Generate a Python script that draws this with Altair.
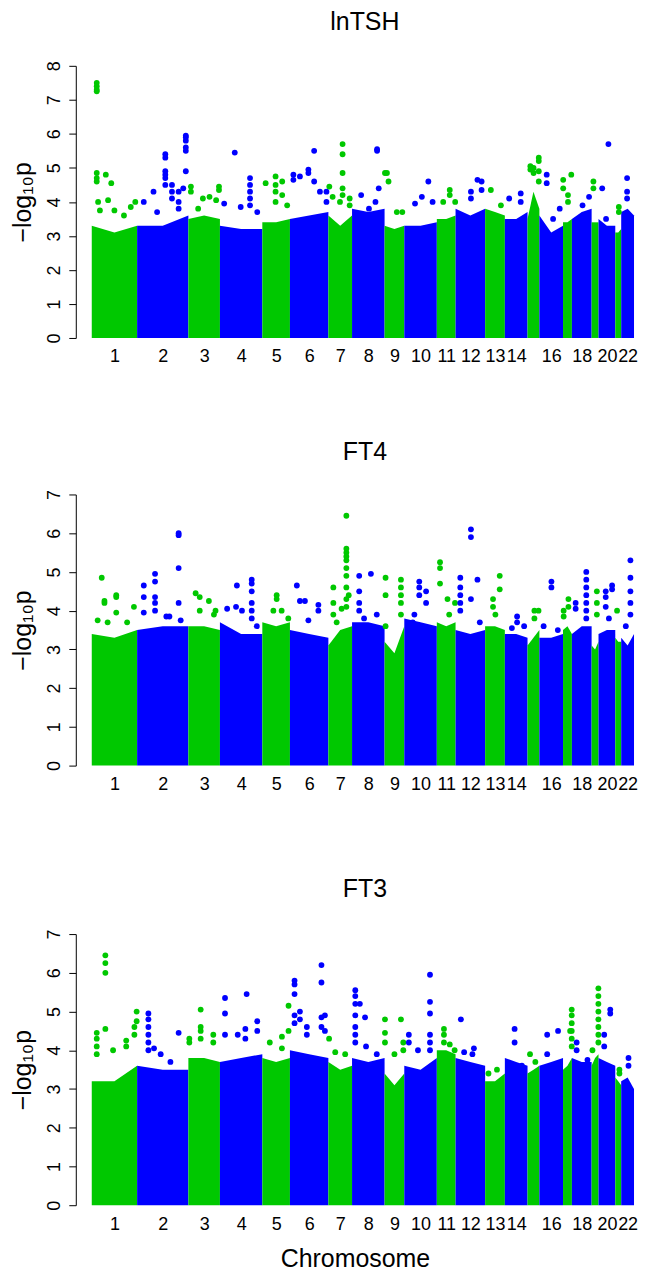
import altair as alt
import pandas as pd

GREEN = "#00C800"
BLUE = "#0000FF"
FONT = "Liberation Sans"

# chromosome widths on the plotted x scale
CHROM_SIZES = [46, 52, 32, 43, 28, 39, 24, 33, 20, 33, 19, 30, 20, 23, 12, 24, 9, 20, 7, 17, 6, 13]
X_LABELS = ["1", "2", "3", "4", "5", "6", "7", "8", "9", "10", "11", "12", "13", "14",
            "", "16", "", "18", "", "20", "", "22"]
PANEL_TITLES = ["lnTSH", "FT4", "FT3"]
Y_MAX = [8, 7, 7]

# upper level of the dense cloud per chromosome (left, middle, right)
TSH_LEVELS = [[3.3, 3.1, 3.3], [3.3, 3.3, 3.6], [3.5, 3.6, 3.5], [3.3, 3.2, 3.2], [3.4, 3.4, 3.5],
              [3.5, 3.6, 3.7], [3.6, 3.3, 3.6], [3.8, 3.7, 3.8], [3.3, 3.2, 3.3], [3.3, 3.3, 3.4],
              [3.5, 3.5, 3.6], [3.8, 3.6, 3.8], [3.8, 3.7, 3.6], [3.5, 3.5, 3.7], [3.5, 4.3, 3.8],
              [3.6, 3.1, 3.3], [3.4, 3.4, 3.5], [3.5, 3.7, 3.8], [3.4, 3.4, 3.4], [3.5, 3.3, 3.3],
              [3.1, 3.1, 3.2], [3.7, 3.8, 3.6]]
FT4_LEVELS = [[3.4, 3.3, 3.5], [3.5, 3.6, 3.6], [3.6, 3.6, 3.5], [3.7, 3.4, 3.4], [3.7, 3.6, 3.7],
              [3.5, 3.4, 3.3], [3.1, 3.5, 3.6], [3.7, 3.7, 3.6], [3.2, 2.9, 3.6], [3.8, 3.7, 3.6],
              [3.7, 3.6, 3.7], [3.5, 3.4, 3.5], [3.6, 3.6, 3.5], [3.4, 3.4, 3.3], [3.1, 3.3, 3.5],
              [3.3, 3.3, 3.4], [3.5, 3.6, 3.4], [3.4, 3.6, 3.6], [3.1, 3.0, 3.2], [3.4, 3.5, 3.5],
              [3.3, 3.2, 3.2], [3.3, 3.1, 3.4]]
FT3_LEVELS = [[3.2, 3.2, 3.6], [3.6, 3.5, 3.5], [3.8, 3.8, 3.7], [3.7, 3.8, 3.9], [3.8, 3.7, 3.8],
              [4.0, 3.9, 3.8], [3.7, 3.5, 3.6], [3.8, 3.7, 3.8], [3.4, 3.1, 3.4], [3.6, 3.5, 3.8],
              [4.0, 4.0, 3.9], [3.8, 3.7, 3.6], [3.2, 3.2, 3.4], [3.8, 3.7, 3.6], [3.4, 3.5, 3.6],
              [3.6, 3.7, 3.8], [3.5, 3.6, 3.8], [3.8, 3.7, 3.7], [3.6, 3.8, 3.9], [3.8, 3.7, 3.6],
              [3.3, 3.2, 3.1], [3.2, 3.3, 3.0]]

# points above the cloud: (chromosome, relative position, -log10 p values)
TSH_DOTS = [
    (1, 0.11, [7.5, 7.4, 7.3, 7.25, 4.85, 4.7, 4.6]), (1, 0.14, [4.0]), (1, 0.18, [3.75]),
    (1, 0.31, [4.8]), (1, 0.36, [4.05]), (1, 0.43, [4.55]), (1, 0.5, [3.75]), (1, 0.71, [3.6]),
    (1, 0.86, [3.85]), (1, 0.96, [4.0]),
    (2, 0.13, [4.0]), (2, 0.32, [4.3]), (2, 0.39, [3.7]), (2, 0.55, [5.4, 5.3, 4.9, 4.8, 4.7, 4.5]),
    (2, 0.68, [4.5, 4.3, 4.1]), (2, 0.81, [4.3, 4.0, 3.8]), (2, 0.9, [4.4]),
    (2, 0.95, [5.95, 5.9, 5.8, 5.6, 5.5, 4.9]),
    (3, 0.08, [4.45, 4.3]), (3, 0.31, [3.8]), (3, 0.46, [4.1]), (3, 0.67, [4.15]), (3, 0.88, [4.05]),
    (3, 0.97, [4.45, 4.35]),
    (4, 0.1, [3.95]), (4, 0.35, [5.45]), (4, 0.49, [3.85]), (4, 0.71, [4.7, 4.5, 4.3, 4.1, 3.9]),
    (4, 0.88, [3.7]),
    (5, 0.12, [4.55]), (5, 0.48, [4.75, 4.5, 4.3, 4.0]), (5, 0.72, [4.6, 4.2]), (5, 0.9, [3.9]),
    (6, 0.09, [4.8, 4.65]), (6, 0.26, [4.75]), (6, 0.48, [4.95, 4.85]), (6, 0.63, [5.5, 4.6]),
    (6, 0.78, [4.3]), (6, 0.95, [4.3, 4.0]),
    (7, 0.04, [4.45]), (7, 0.18, [4.15]), (7, 0.49, [4.0]), (7, 0.6, [5.7, 5.4, 4.85, 4.4, 4.2]),
    (7, 0.9, [4.1, 3.9]),
    (8, 0.28, [4.2]), (8, 0.52, [3.8]), (8, 0.72, [4.0]), (8, 0.77, [5.55, 5.5]), (8, 0.82, [4.4]),
    (9, 0.02, [4.85]), (9, 0.12, [4.85]), (9, 0.2, [4.6]), (9, 0.62, [3.7]), (9, 0.9, [3.7]),
    (10, 0.33, [3.95]), (10, 0.54, [4.15]), (10, 0.74, [4.6]), (10, 0.87, [4.0]),
    (11, 0.34, [4.0]), (11, 0.69, [4.35, 4.2]), (11, 0.98, [4.0]),
    (12, 0.52, [4.3, 4.1]), (12, 0.74, [4.65]), (12, 0.88, [4.6, 4.35]),
    (13, 0.29, [4.35]), (13, 0.8, [3.9]),
    (14, 0.19, [4.1]), (14, 0.7, [4.25, 4.0]),
    (15, 0.24, [5.05, 4.95]), (15, 0.51, [5.0, 4.85]), (15, 0.95, [5.3, 5.2, 4.9, 4.6]),
    (16, 0.31, [4.8, 4.55]), (16, 0.58, [3.5]), (16, 0.86, [3.8]),
    (17, 0.02, [4.65, 4.4]), (17, 0.56, [4.2, 4.0]), (17, 0.93, [4.8]),
    (18, 0.54, [3.9]), (18, 0.87, [4.15]),
    (19, 0.26, [4.6, 4.4]),
    (20, 0.22, [4.4]), (20, 0.45, [3.5]), (20, 0.59, [5.7]),
    (21, 0.6, [3.85, 3.7]),
    (22, 0.46, [4.7, 4.3, 4.1]),
]
FT4_DOTS = [
    (1, 0.13, [3.75]), (1, 0.22, [4.85]), (1, 0.28, [4.25, 4.2]), (1, 0.35, [3.7]),
    (1, 0.54, [4.4, 4.35, 3.95]), (1, 0.78, [3.7]), (1, 0.93, [4.1]),
    (2, 0.13, [4.65, 4.35, 3.95]), (2, 0.35, [4.95, 4.75, 4.35, 4.2, 4.0]), (2, 0.57, [3.85]),
    (2, 0.63, [3.85]), (2, 0.81, [6.0, 5.95, 5.1, 4.2]), (2, 0.85, [3.75]),
    (3, 0.23, [4.45]), (3, 0.36, [4.35, 4.0]), (3, 0.65, [4.25]), (3, 0.81, [3.9]), (3, 0.86, [4.0]),
    (4, 0.17, [4.05]), (4, 0.38, [4.1]), (4, 0.4, [4.65]), (4, 0.52, [4.0]),
    (4, 0.75, [4.8, 4.7, 4.5, 4.2, 4.0, 3.8]), (4, 0.87, [3.6]),
    (5, 0.4, [4.0]), (5, 0.52, [4.4, 4.3]), (5, 0.7, [4.0]), (5, 0.94, [3.8]),
    (6, 0.18, [4.65]), (6, 0.26, [4.25]), (6, 0.39, [4.25]), (6, 0.48, [3.75]), (6, 0.74, [4.15, 4.0]),
    (7, 0.21, [4.6, 4.2, 3.9]), (7, 0.35, [3.7]), (7, 0.56, [4.05]),
    (7, 0.76, [6.45, 5.6, 5.5, 5.4, 5.3, 5.1, 4.9, 4.6, 4.3, 4.1]), (7, 0.86, [4.4]),
    (8, 0.22, [4.9, 4.5, 4.2, 4.0]), (8, 0.37, [3.8]), (8, 0.58, [4.95]), (8, 0.76, [3.9]),
    (9, 0.05, [4.85, 4.4, 3.6]), (9, 0.83, [4.8, 4.6, 4.4, 4.2, 3.9]),
    (10, 0.26, [3.7]), (10, 0.31, [3.9]), (10, 0.46, [4.75, 4.6, 4.4]), (10, 0.67, [4.5, 4.2]),
    (11, 0.17, [5.25, 5.1, 4.7]), (11, 0.57, [4.3]), (11, 0.66, [3.9]), (11, 0.97, [4.2]),
    (12, 0.16, [4.85, 4.6, 4.4, 4.2, 4.0]), (12, 0.52, [6.1, 5.9, 4.3]), (12, 0.74, [4.8]),
    (12, 0.82, [3.7]),
    (13, 0.4, [4.3, 4.1]), (13, 0.52, [3.9]), (13, 0.74, [4.9, 4.55]),
    (14, 0.31, [3.55]), (14, 0.54, [3.85, 3.7]), (14, 0.85, [3.6]),
    (15, 0.58, [4.0, 3.8]), (15, 0.93, [4.0]),
    (16, 0.18, [3.6]), (16, 0.51, [4.75, 4.6]), (16, 0.78, [3.5]),
    (17, 0.07, [4.0, 3.85]), (17, 0.61, [4.3, 4.1]),
    (18, 0.19, [4.2, 4.05]), (18, 0.73, [5.0, 4.8, 4.6, 4.4, 4.2, 4.0, 3.8]),
    (19, 0.76, [4.5, 4.2, 3.9]),
    (20, 0.43, [4.5, 4.35, 4.1]), (20, 0.62, [3.8]), (20, 0.81, [4.65, 4.55]),
    (21, 0.3, [4.0]),
    (22, 0.36, [3.6]), (22, 0.72, [5.3, 4.85, 4.5, 4.2, 3.9]),
]
FT3_DOTS = [
    (1, 0.11, [4.45, 4.3, 4.1, 3.9]), (1, 0.3, [6.45, 6.25, 6.0, 4.55]), (1, 0.47, [4.0]),
    (1, 0.76, [4.25, 4.1]), (1, 0.94, [4.6, 4.4]), (1, 0.99, [5.0, 4.75]),
    (2, 0.22, [4.95, 4.8, 4.6, 4.4, 4.2, 4.0]), (2, 0.33, [4.05]), (2, 0.46, [3.9]),
    (2, 0.65, [3.7]), (2, 0.81, [4.45]),
    (3, 0.03, [4.3, 4.2]), (3, 0.39, [5.05, 4.6, 4.5, 4.3]), (3, 0.79, [4.4, 4.2]),
    (4, 0.12, [5.35, 4.95, 4.4]), (4, 0.42, [4.4]), (4, 0.6, [4.55, 4.3]), (4, 0.63, [5.45]),
    (4, 0.88, [4.75, 4.5]),
    (5, 0.27, [4.2]), (5, 0.71, [4.35, 4.05]), (5, 0.95, [5.15, 4.5]),
    (6, 0.12, [5.8, 5.7, 5.45, 4.9, 4.7]), (6, 0.26, [5.0, 4.8]), (6, 0.44, [4.6, 4.4]),
    (6, 0.82, [6.2, 5.75, 4.85, 4.6]), (6, 0.91, [4.9, 4.5]),
    (7, 0.03, [4.3]), (7, 0.29, [3.95]), (7, 0.71, [3.9]),
    (8, 0.1, [5.55, 5.4, 5.2, 4.9, 4.6, 4.4, 4.2]), (8, 0.24, [5.2]), (8, 0.4, [4.85]),
    (8, 0.43, [4.1]), (8, 0.76, [3.9]),
    (9, 0.02, [4.8, 4.45, 4.2]), (9, 0.5, [3.9]), (9, 0.83, [4.8]), (9, 0.95, [4.2, 4.0]),
    (10, 0.14, [4.4, 4.2]), (10, 0.42, [4.0]), (10, 0.79, [5.95, 5.25, 4.95, 4.4, 4.2, 4.0]),
    (11, 0.38, [4.55, 4.4, 4.2]), (11, 0.69, [4.15]), (11, 0.95, [4.0]),
    (12, 0.18, [4.8]), (12, 0.29, [3.95]), (12, 0.57, [3.9]), (12, 0.62, [4.05]),
    (13, 0.17, [3.4]), (13, 0.6, [3.5]),
    (14, 0.43, [4.55, 4.2]), (14, 0.75, [3.6]),
    (15, 0.21, [3.9]), (15, 0.66, [3.7]),
    (16, 0.33, [4.4, 3.9]), (16, 0.79, [4.5]),
    (17, 0.8, [4.5]), (17, 0.98, [5.05, 4.9, 4.7, 4.5, 4.3, 4.1]),
    (18, 0.24, [4.2, 4.0]), (18, 0.79, [3.75]),
    (19, 0.12, [4.0]), (19, 0.98, [5.6, 5.4, 5.2, 5.0, 4.8, 4.6, 4.4, 4.2]),
    (20, 0.34, [4.4, 4.1]), (20, 0.7, [5.05, 4.95]),
    (21, 0.7, [3.5, 3.4]),
    (22, 0.57, [3.8, 3.6]),
]

starts = []
acc = 0
for s in CHROM_SIZES:
    starts.append(acc)
    acc += s
TOTAL = acc
centers = [st + sz / 2 for st, sz in zip(starts, CHROM_SIZES)]
label_vals = [c for c, lab in zip(centers, X_LABELS) if lab]
label_expr = "".join(
    f"round(datum.value*2)=={int(round(c * 2))}?'{lab}':" for c, lab in zip(centers, X_LABELS) if lab
) + "''"

color_scale = alt.Scale(domain=["g", "b"], range=[GREEN, BLUE])


def panel(levels, dots, title, ymax, height, title_offset, xtitle):
    rows = []
    for i, lv in enumerate(levels):
        for f, v in zip([0.0, 0.5, 1.0], lv):
            rows.append({"kind": "a", "x": starts[i] + f * CHROM_SIZES[i], "v": v, "chrom": i + 1,
                         "c": "g" if (i + 1) % 2 else "b"})
    for ch, f, vals in dots:
        for v in vals:
            rows.append({"kind": "d", "x": starts[ch - 1] + f * CHROM_SIZES[ch - 1], "v": v,
                         "chrom": ch, "c": "g" if ch % 2 else "b"})
    xaxis = alt.Axis(values=label_vals, labelExpr=label_expr, domain=False, ticks=False, grid=False,
                     labelFontSize=18, labelPadding=10, labelOverlap=False, labelFlush=False,
                     titleFontSize=25, titlePadding=13)
    yaxis = alt.Axis(values=list(range(ymax + 1)), labelAngle=270, labelAlign="center",
                     labelBaseline="alphabetic", tickSize=7, labelPadding=9,
                     labelFontSize=18, titleFontSize=25, titlePadding=6,
                     minExtent=34, maxExtent=34, grid=False)
    base = alt.Chart(pd.DataFrame(rows)).encode(
        x=alt.X("x:Q", scale=alt.Scale(domain=[-16.2, TOTAL], nice=False, zero=False),
                axis=xaxis, title=xtitle),
        y=alt.Y("v:Q", stack=None, scale=alt.Scale(domain=[0, ymax], nice=False),
                axis=yaxis, title="\u2212log\u2081\u2080p"),
        color=alt.Color("c:N", scale=color_scale, legend=None),
    )
    area = base.transform_filter(alt.datum.kind == "a").mark_area(interpolate="linear").encode(
        detail="chrom:N")
    pts = base.transform_filter(alt.datum.kind == "d").mark_circle(size=34, opacity=1)
    return alt.layer(area, pts).properties(
        width=560, height=height,
        title=alt.TitleParams(title, fontSize=25, font=FONT, fontWeight="normal", anchor="middle",
                              frame="group", baseline="alphabetic", offset=title_offset, dx=10,
                              color="black"))


p1 = panel(TSH_LEVELS, TSH_DOTS, PANEL_TITLES[0], Y_MAX[0], 273, 6.3, None)
p2 = panel(FT4_LEVELS, FT4_DOTS, PANEL_TITLES[1], Y_MAX[1], 272, 4.5, None)
p3 = panel(FT3_LEVELS, FT3_DOTS, PANEL_TITLES[2], Y_MAX[2], 272, 7, "Chromosome")

chart = alt.vconcat(alt.vconcat(p1, p2, spacing=74), p3, spacing=83).properties(
    padding={"left": 3, "top": -1, "right": 0, "bottom": 0}
).configure_view(strokeWidth=0).configure_axis(
    labelFont=FONT, titleFont=FONT, labelColor="black", titleColor="black",
    domainColor="black", tickColor="black", titleFontWeight="normal"
)

chart.save("out.html", embed_options={"renderer": "svg", "actions": False})
